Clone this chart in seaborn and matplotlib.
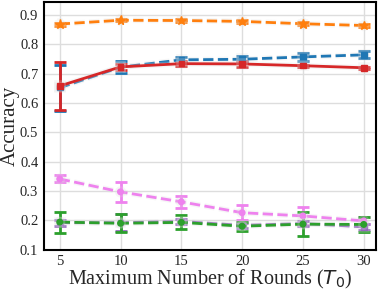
import seaborn as sns
import numpy as np
from matplotlib import pyplot as plt
import matplotlib.patheffects as pe

rounds = [5, 10, 15, 20, 25, 30]

orange_mean = [0.869, 0.882, 0.881, 0.878, 0.870, 0.864]
orange_err = [0.005, 0.004, 0.004, 0.004, 0.005, 0.005]
blue_mean = [0.652, 0.722, 0.747, 0.749, 0.757, 0.764]
blue_err = [0.078, 0.020, 0.009, 0.010, 0.015, 0.012]
red_mean = [0.658, 0.723, 0.734, 0.733, 0.727, 0.720]
red_err = [0.081, 0.010, 0.008, 0.010, 0.004, 0.004]
violet_mean = [0.341, 0.297, 0.263, 0.226, 0.215, 0.198]
violet_err = [0.012, 0.035, 0.020, 0.026, 0.032, 0.012]
purple_mean = [0.192, 0.192, 0.196, 0.183, 0.189, 0.178]
purple_err = [0.010, 0.030, 0.010, 0.008, 0.010, 0.010]
green_mean = [0.194, 0.190, 0.193, 0.180, 0.187, 0.186]
green_err = [0.036, 0.030, 0.024, 0.015, 0.040, 0.027]

sns.set_style("whitegrid")
plt.rcParams['font.family'] = ['Liberation Serif', 'DejaVu Serif']
plt.rcParams['mathtext.fontset'] = 'dejavusans'

fig, ax = plt.subplots(figsize=(3.82, 2.91), dpi=100)
fig.subplots_adjust(left=0.115, right=0.984, bottom=0.142, top=0.993)

halo = [pe.withStroke(linewidth=4, foreground='#dddddd', alpha=0.25)]

series = [
    (blue_mean, blue_err, 'tab:blue', '--', 's'),
    (orange_mean, orange_err, 'tab:orange', '--', '*'),
    (red_mean, red_err, 'tab:red', '-', 's'),
    (violet_mean, violet_err, 'violet', '--', 'o'),
    (purple_mean, purple_err, 'tab:purple', '--', 's'),
    (green_mean, green_err, 'tab:green', '--', 'o'),
]

for mean, err, color, ls, mk in series:
    line, caps, bars = ax.errorbar(rounds, mean, yerr=err, color=color, linestyle=ls,
                                   marker=mk, markersize=4 if mk != '*' else 7,
                                   linewidth=2, capsize=4, capthick=2, elinewidth=2)
    line.set_path_effects(halo)

ax.set_xlim(3.7, 31)
ax.set_ylim(0.1, 0.944)
ax.set_xticks(rounds)
ax.set_yticks([0.1, 0.2, 0.3, 0.4, 0.5, 0.6, 0.7, 0.8, 0.9])
ax.tick_params(labelsize=10.5, pad=0.5)
ax.set_xlabel('Maximum Number of Rounds ($T_0$)', fontsize=14.5, labelpad=-0.5)
ax.set_ylabel('Accuracy', fontsize=15, labelpad=0)
ax.grid(True, color='#dddddd', linewidth=1)
for s in ax.spines.values():
    s.set_color('black')
    s.set_linewidth(1.5)

fig.savefig('out.png', dpi=100)
